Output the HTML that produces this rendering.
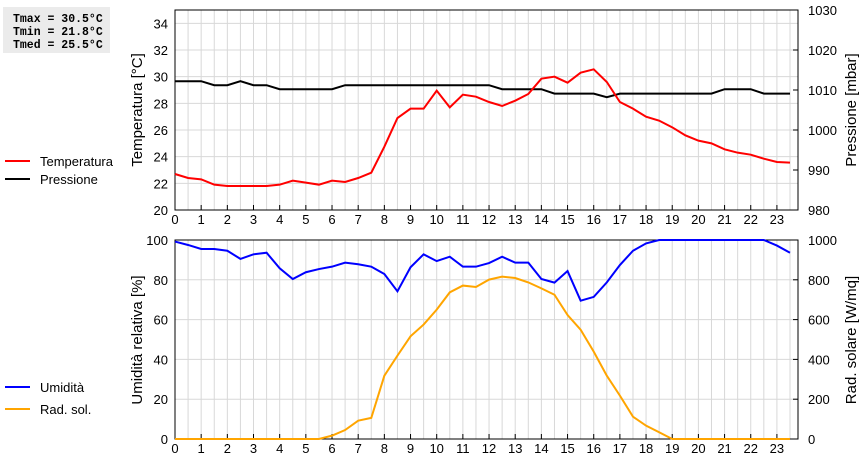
<!DOCTYPE html>
<html><head><meta charset="utf-8"><style>
body{margin:0;background:#fff;width:860px;height:460px;overflow:hidden;font-family:"Liberation Sans",sans-serif}
svg text{font-family:"Liberation Sans",sans-serif}
</style></head><body>
<svg id="c" width="860" height="460">
<rect x="3" y="7" width="107" height="46" fill="#ebebeb"/>
<g font-family="Liberation Mono,monospace" font-weight="bold" font-size="11.5">
<text x="13" y="22" style="font-family:'Liberation Mono',monospace">Tmax = 30.5°C</text>
<text x="13" y="35" style="font-family:'Liberation Mono',monospace">Tmin = 21.8°C</text>
<text x="13" y="48" style="font-family:'Liberation Mono',monospace">Tmed = 25.5°C</text>
</g>
<g font-size="13">
<line x1="5" y1="161" x2="30" y2="161" stroke="#f00" stroke-width="2"/><text x="40" y="166">Temperatura</text>
<line x1="5" y1="179" x2="30" y2="179" stroke="#000" stroke-width="2"/><text x="40" y="184">Pressione</text>
</g>
<g font-size="13">
<line x1="5" y1="387" x2="30" y2="387" stroke="#00f" stroke-width="2"/><text x="40" y="392">Umidità</text>
<line x1="5" y1="409" x2="30" y2="409" stroke="#ffa500" stroke-width="2"/><text x="40" y="414">Rad. sol.</text>
</g>
<text transform="translate(142,110) rotate(-90)" text-anchor="middle" font-size="15">Temperatura [°C]</text>
<text transform="translate(856,110) rotate(-90)" text-anchor="middle" font-size="15">Pressione [mbar]</text>
<text transform="translate(142,340) rotate(-90)" text-anchor="middle" font-size="15">Umidità relativa [%]</text>
<text transform="translate(856,340) rotate(-90)" text-anchor="middle" font-size="15">Rad. solare [W/mq]</text>
</svg>
<script>
const hours=[0,0.5,1,1.5,2,2.5,3,3.5,4,4.5,5,5.5,6,6.5,7,7.5,8,8.5,9,9.5,10,10.5,11,11.5,12,12.5,13,13.5,14,14.5,15,15.5,16,16.5,17,17.5,18,18.5,19,19.5,20,20.5,21,21.5,22,22.5,23,23.5];
const temperature=[22.7,22.4,22.3,21.9,21.8,21.8,21.8,21.8,21.9,22.2,22.05,21.9,22.2,22.1,22.4,22.8,24.75,26.9,27.6,27.6,28.95,27.7,28.65,28.5,28.1,27.8,28.2,28.7,29.85,30.0,29.55,30.3,30.55,29.6,28.1,27.6,27.0,26.7,26.2,25.6,25.2,25.0,24.55,24.3,24.15,23.85,23.6,23.55];
const pressure=[1012.2,1012.2,1012.2,1011.2,1011.2,1012.2,1011.2,1011.2,1010.2,1010.2,1010.2,1010.2,1010.2,1011.2,1011.2,1011.2,1011.2,1011.2,1011.2,1011.2,1011.2,1011.2,1011.2,1011.2,1011.2,1010.2,1010.2,1010.2,1010.2,1009.1,1009.1,1009.1,1009.1,1008.2,1009.1,1009.1,1009.1,1009.1,1009.1,1009.1,1009.1,1009.1,1010.2,1010.2,1010.2,1009.1,1009.1,1009.1];
const humidity=[99.2,97.5,95.5,95.5,94.6,90.5,92.8,93.6,85.8,80.4,83.8,85.4,86.6,88.6,87.8,86.6,82.9,74.2,86.3,92.8,89.4,91.6,86.6,86.6,88.4,91.6,88.6,88.6,80.4,78.6,84.4,69.5,71.4,78.7,87.4,94.6,98.3,100,100,100,100,100,100,100,100,100,97.2,93.6];
const radiation=[0,0,0,0,0,0,0,0,0,0,0,0,17,45,92,106,318,419,516,575,650,737,771,764,801,816,809,787,757,725,623,549,439,318,218,112,67,34,0,0,0,0,0,0,0,0,0,0];
const tempTicks=[20,22,24,26,28,30,32,34];
const pressTicks=[980,990,1000,1010,1020,1030];
const humTicks=[0,20,40,60,80,100];
const radTicks=[0,200,400,600,800,1000];
const hourTicks=[0,1,2,3,4,5,6,7,8,9,10,11,12,13,14,15,16,17,18,19,20,21,22,23];

const svg=document.getElementById('c');const NS='http://www.w3.org/2000/svg';
const X0=175,X1=798,HW=26.17;
const x=h=>X0+h*HW;
function mk(t,a,p){const e=document.createElementNS(NS,t);for(const k in a)e.setAttribute(k,a[k]);(p||svg).appendChild(e);return e;}
function panel(top,bot,lmin,lmax,lt,rmin,rmax,rt,name){
  const g=mk('g',{});
  
  
  const yl=v=>bot-(v-lmin)/(lmax-lmin)*(bot-top);
  const yr=v=>bot-(v-rmin)/(rmax-rmin)*(bot-top);
  for(let h=0.5;h<23.9;h+=0.5)mk('line',{x1:x(h),x2:x(h),y1:top,y2:bot,stroke:'#d8d8d8'},g);
  lt.forEach(v=>{const y=yl(v);mk('line',{x1:X0,x2:X1,y1:y,y2:y,stroke:'#d8d8d8'},g);
    const t=mk('text',{x:168,y:y+5,'text-anchor':'end','font-size':13},g);t.textContent=v;
    });
  rt.forEach(v=>{const y=yr(v);mk('line',{x1:X1-5,x2:X1,y1:y,y2:y,stroke:'#000'},g);
    const t=mk('text',{x:808,y:y+5,'font-size':13},g);t.textContent=v;
    });
  hourTicks.forEach(h=>{mk('line',{x1:x(h),x2:x(h),y1:bot-5,y2:bot,stroke:'#000'},g);
    const t=mk('text',{x:x(h),y:bot+14,'text-anchor':'middle','font-size':13},g);t.textContent=h;
    });
  mk('rect',{x:X0,y:top,width:X1-X0,height:bot-top,fill:'none',stroke:'#000'},g);
  return [yl,yr];
}
function line(vals,sc,col,name){
  const p=mk('polyline',{points:vals.map((v,i)=>x(hours[i])+','+sc(v)).join(' '),fill:'none',stroke:col,'stroke-width':2});
  
  
}
const [ty,py]=panel(10,210,20,35,tempTicks,980,1030,pressTicks,'top');
line(pressure,py,'#000','pressure-line');
line(temperature,ty,'#f00','temperature-line');
const [hy,ry]=panel(240,439,0,100,humTicks,0,1000,radTicks,'bottom');
line(radiation,ry,'#ffa500','radiation-line');
line(humidity,hy,'#00f','humidity-line');
</script>
</body></html>
